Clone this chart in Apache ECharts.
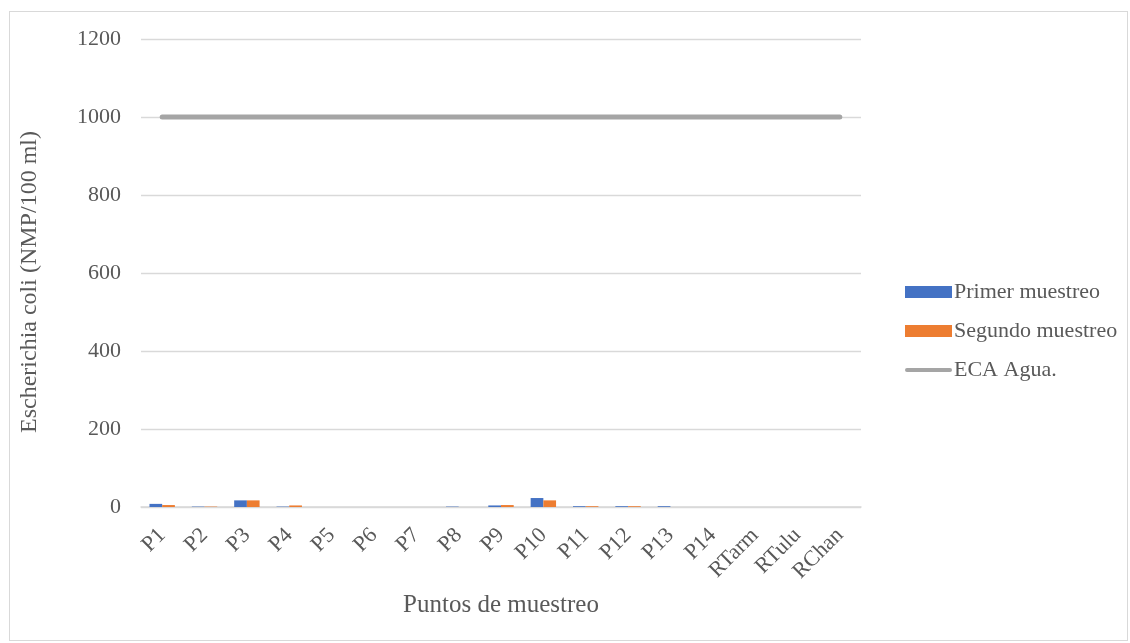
<!DOCTYPE html>
<html><head><meta charset="utf-8">
<script src="https://cdn.jsdelivr.net/npm/echarts@6/dist/echarts.min.js"></script>
<style>html,body{margin:0;padding:0;background:#fff}#c{width:1130px;height:643px}
#frame{position:absolute;left:9px;top:11px;width:1119px;height:630px;border:1px solid #d9d9d9;box-sizing:border-box;pointer-events:none}</style>
</head><body><div id="c"></div><div id="frame"></div>
<script>
const categories = ['P1','P2','P3','P4','P5','P6','P7','P8','P9','P10','P11','P12','P13','P14','RTarm','RTulu','RChan'];
const primerMuestreo = [8,1,17,1,0,0,0,1,4,23,2,2,2,0,0,0,0];
const segundoMuestreo = [5,1,17,4,0,0,0,0,5,17,2,2,0,0,0,0,0];
const ecaAgua = [1000,1000,1000,1000,1000,1000,1000,1000,1000,1000,1000,1000,1000,1000,1000,1000,1000];
const yTicks = {min:0, max:1200, interval:200};
const font = 'Liberation Serif';
const lineIcon = 'path://M2,4 L45,4 A2,2 0 0 1 45,8 L2,8 A2,2 0 0 1 2,4 Z M0,0 L0.01,0 L0,0.01 Z M47,12 L46.99,12 L47,11.99 Z';
const chart = echarts.init(document.getElementById('c'));
chart.setOption({
  animation:false,
  textStyle:{fontFamily:font},
  grid:{left:141, right:269, top:39, bottom:136},
  legend:{orient:'vertical', left:900, top:276, itemGap:17, itemWidth:47, itemHeight:12,
    textStyle:{fontFamily:font, fontSize:22, color:'#595959', padding:[0,0,0,-3]},
    data:[{name:'Primer muestreo', icon:'rect'},{name:'Segundo muestreo', icon:'rect'},{name:'ECA Agua.', icon:lineIcon, itemStyle:{color:'#a5a5a5', borderWidth:0}}]},
  xAxis:{type:'category', data:categories, name:'Puntos de muestreo', nameLocation:'middle', nameGap:86,
    nameTextStyle:{fontFamily:font, fontSize:25, color:'#595959'},
    axisLine:{lineStyle:{color:'#d9d9d9', width:1.5}}, axisTick:{show:false},
    axisLabel:{rotate:45, fontFamily:font, fontSize:22, color:'#595959', margin:25, interval:0}},
  yAxis:{type:'value', min:yTicks.min, max:yTicks.max, interval:yTicks.interval,
    name:'Escherichia coli (NMP/100 ml)', nameLocation:'middle', nameGap:99,
    nameTextStyle:{fontFamily:font, fontSize:24, color:'#595959', padding:[0,18,0,0]},
    axisLine:{show:false}, axisTick:{show:false},
    axisLabel:{fontFamily:font, fontSize:22, color:'#595959', margin:20, formatter:v=>String(v)},
    splitLine:{lineStyle:{color:'#d9d9d9', width:1.3}}},
  series:[
    {name:'Primer muestreo', type:'bar', data:primerMuestreo, itemStyle:{color:'#4472c4'}, barGap:'0%', barCategoryGap:'40%'},
    {name:'Segundo muestreo', type:'bar', data:segundoMuestreo, itemStyle:{color:'#ed7d31'}},
    {name:'ECA Agua.', type:'line', data:ecaAgua, symbol:'none', lineStyle:{color:'#a5a5a5', width:5, cap:'round'}, itemStyle:{color:'#a5a5a5'}}
  ]
});
</script></body></html>
